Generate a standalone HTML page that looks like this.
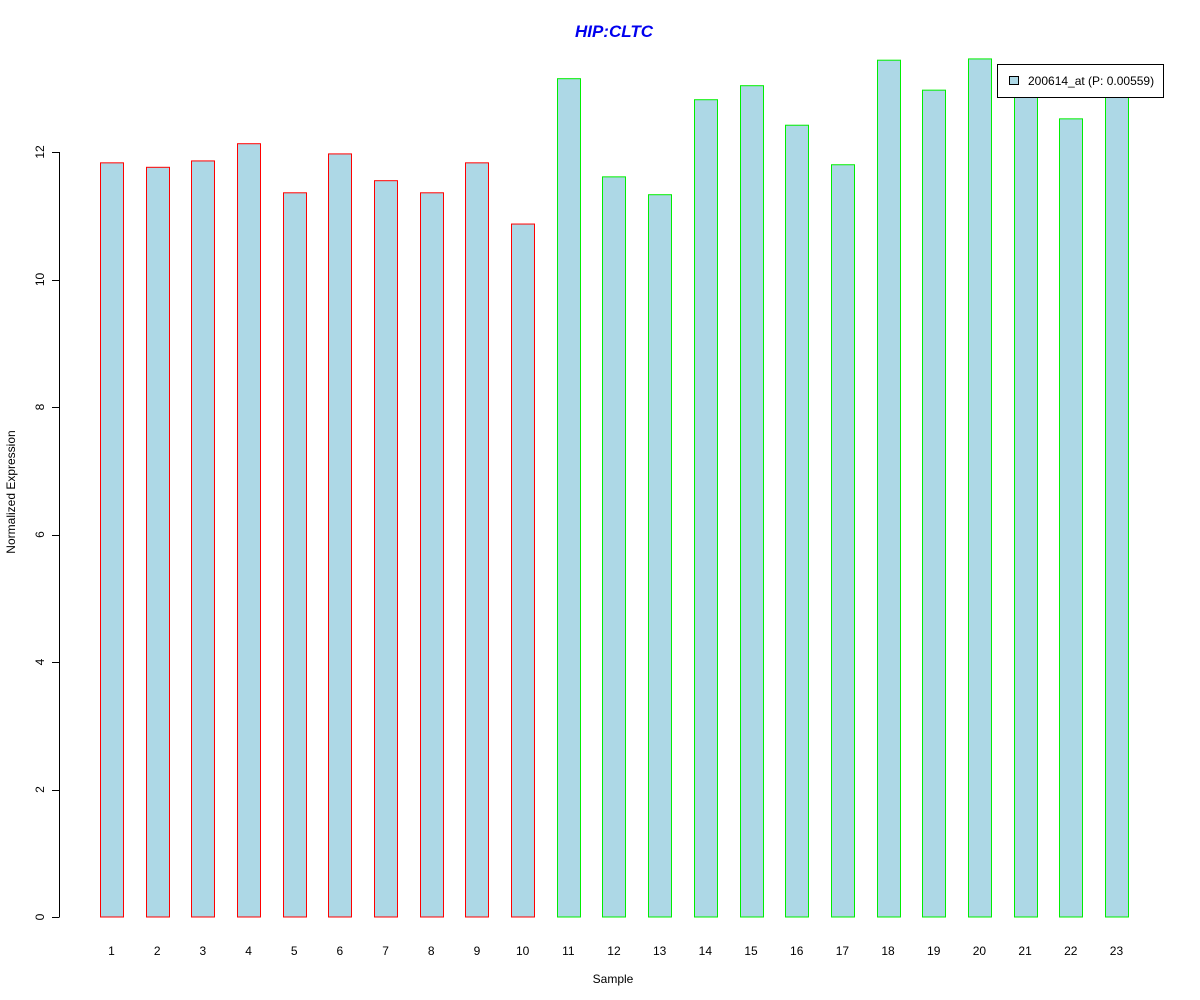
<!DOCTYPE html>
<html><head><meta charset="utf-8"><style>
html,body{margin:0;padding:0;background:#fff;}
svg{display:block;font-family:"Liberation Sans",Arial,sans-serif;}
</style></head><body>
<svg id="chart" width="1200" height="1000" xmlns="http://www.w3.org/2000/svg">
<text x="614" y="37" text-anchor="middle" font-size="17" font-weight="bold" font-style="italic" fill="#0000ee">HIP:CLTC</text>
<text x="613" y="983" text-anchor="middle" font-size="12">Sample</text>
<text transform="translate(15,492) rotate(-90)" text-anchor="middle" font-size="12">Normalized Expression</text>
<g id="yaxis"></g>
<g id="bars"></g>
<g id="xlabels"></g>
<g>
<rect x="997.5" y="64.5" width="166" height="33" fill="#fff" stroke="#000"/>
<rect x="1009.5" y="76.5" width="9" height="8" fill="lightblue" stroke="#000"/>
<text x="1028" y="85" font-size="12">200614_at (P: 0.00559)</text>
</g>
</svg>
<script>
const categories = ["1","2","3","4","5","6","7","8","9","10","11","12","13","14","15","16","17","18","19","20","21","22","23"];
const values = [11.83,11.76,11.86,12.13,11.36,11.97,11.55,11.36,11.83,10.87,13.15,11.61,11.33,12.82,13.04,12.42,11.80,13.44,12.97,13.46,13.0,12.52,13.1];
const groups = ["a","a","a","a","a","a","a","a","a","a","b","b","b","b","b","b","b","b","b","b","b","b","b"];
const yTicks = [0,2,4,6,8,10,12];
const NS="http://www.w3.org/2000/svg";
function y(v){return 917 - v*63.75;}
function xc(i){return 111.5 + i*45.68;}
const ya=document.getElementById('yaxis');
const axl=document.createElementNS(NS,'line');
axl.setAttribute('x1',59.5);axl.setAttribute('x2',59.5);
axl.setAttribute('y1',y(yTicks[0]));axl.setAttribute('y2',y(yTicks[yTicks.length-1]));
axl.setAttribute('stroke','#000');


ya.appendChild(axl);
yTicks.forEach(t=>{
  const l=document.createElementNS(NS,'line');
  l.setAttribute('x1',52);l.setAttribute('x2',59.5);
  l.setAttribute('y1',Math.round(y(t))+0.5);l.setAttribute('y2',Math.round(y(t))+0.5);
  l.setAttribute('stroke','#000');
  
  
  ya.appendChild(l);
  const tx=document.createElementNS(NS,'text');
  tx.setAttribute('transform','translate(44,'+y(t)+') rotate(-90)');
  tx.setAttribute('text-anchor','middle');tx.setAttribute('font-size','12');
  tx.textContent=String(t);
  
  
  ya.appendChild(tx);
});
const bg=document.getElementById('bars'), xl=document.getElementById('xlabels');
values.forEach((v,i)=>{
  const r=document.createElementNS(NS,'rect');
  const top=y(v);
  r.setAttribute('x',Math.round(xc(i)-11.5)+0.5);
  r.setAttribute('y',top);
  r.setAttribute('width',23);
  r.setAttribute('height',y(0)-top);
  r.setAttribute('fill','#add8e6');
  r.setAttribute('stroke',groups[i]==='a'?'#ff0000':'#00ee00');
  
  
  bg.appendChild(r);
  const t=document.createElementNS(NS,'text');
  t.setAttribute('x',xc(i));t.setAttribute('y',955);
  t.setAttribute('text-anchor','middle');t.setAttribute('font-size','12');
  t.textContent=categories[i];
  
  
  xl.appendChild(t);
});
</script>
</body></html>
